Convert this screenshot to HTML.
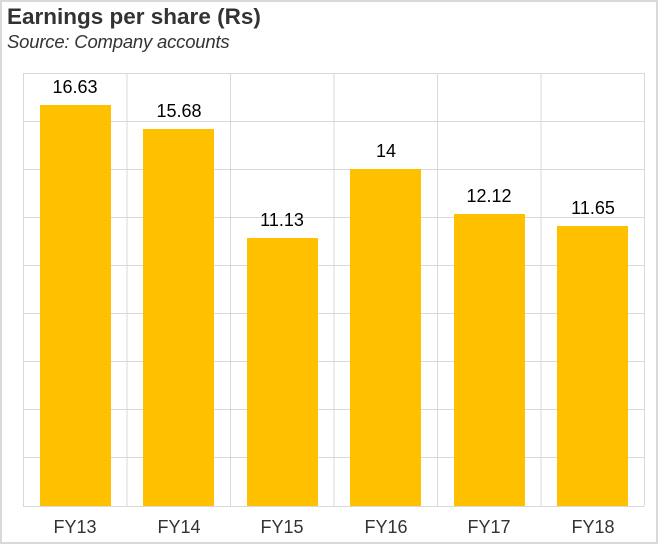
<!DOCTYPE html>
<html><head><style>
body{margin:0;background:#fff}
.w{position:relative;width:654px;height:540px;border:2px solid #d9d9d9;font-family:"Liberation Sans",Arial,sans-serif;overflow:hidden}
</style></head><body><div class="w">
<div style="position:absolute;left:5px;top:2px;font-size:22.5px;font-weight:bold;color:#333">Earnings per share (Rs)</div>
<div style="position:absolute;left:5px;top:29px;font-size:18.5px;font-style:italic;color:#333;letter-spacing:-0.2px">Source: Company accounts</div>
<svg style="position:absolute;left:-2px;top:-2px" width="658" height="544" font-family="Liberation Sans,Arial,sans-serif" font-size="18" fill="#000">
<g stroke="#d9d9d9" stroke-width="1">
<line x1="23" y1="73.5" x2="644" y2="73.5"/><line x1="23" y1="121.5" x2="644" y2="121.5"/><line x1="23" y1="169.5" x2="644" y2="169.5"/><line x1="23" y1="217.5" x2="644" y2="217.5"/><line x1="23" y1="265.5" x2="644" y2="265.5"/><line x1="23" y1="313.5" x2="644" y2="313.5"/><line x1="23" y1="361.5" x2="644" y2="361.5"/><line x1="23" y1="409.5" x2="644" y2="409.5"/><line x1="23" y1="457.5" x2="644" y2="457.5"/><line x1="23" y1="506.5" x2="644" y2="506.5"/>
<line x1="23.5" y1="73" x2="23.5" y2="506"/><line x1="127" y1="73" x2="127" y2="506"/><line x1="230.5" y1="73" x2="230.5" y2="506"/><line x1="334" y1="73" x2="334" y2="506"/><line x1="437.5" y1="73" x2="437.5" y2="506"/><line x1="541" y1="73" x2="541" y2="506"/><line x1="644.5" y1="73" x2="644.5" y2="506"/>
</g>
<g fill="#ffc000">
<rect x="40" y="105" width="71" height="401"/><rect x="143" y="129" width="71" height="377"/><rect x="247" y="238" width="71" height="268"/><rect x="350" y="169" width="71" height="337"/><rect x="454" y="214" width="71" height="292"/><rect x="557" y="226" width="71" height="280"/>
</g>
<g text-anchor="middle">
<text x="75" y="93">16.63</text><text x="179" y="117">15.68</text><text x="282" y="226">11.13</text><text x="386" y="157">14</text><text x="489" y="202">12.12</text><text x="593" y="214">11.65</text>
</g>
<g text-anchor="middle" fill="#333">
<text x="75" y="533">FY13</text><text x="179" y="533">FY14</text><text x="282" y="533">FY15</text><text x="386" y="533">FY16</text><text x="489" y="533">FY17</text><text x="593" y="533">FY18</text>
</g>
</svg>
</div></body></html>
